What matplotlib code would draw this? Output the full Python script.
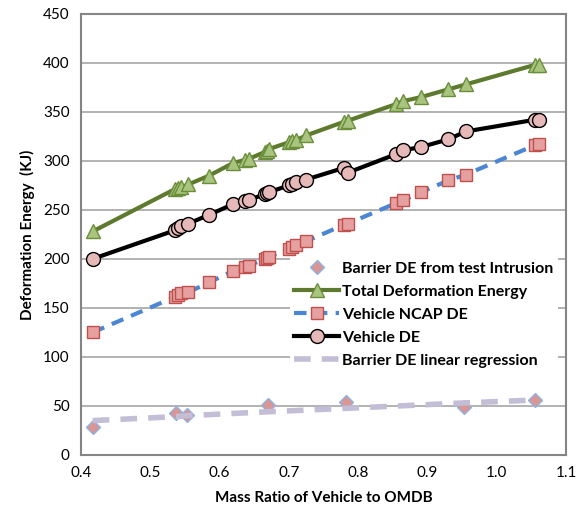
import matplotlib.pyplot as plt
import numpy as np

plt.rcParams['font.family'] = ['Lato', 'DejaVu Sans']

# mass ratio for vehicle series
ratio = [0.417, 0.535, 0.54, 0.545, 0.555, 0.585, 0.62, 0.637, 0.642, 0.665, 0.668, 0.671,
         0.70, 0.705, 0.71, 0.725, 0.78, 0.785, 0.855, 0.865, 0.89, 0.93, 0.955, 1.055, 1.06]
total_de = [228, 271, 272, 273, 276, 285, 298, 301, 302, 309, 310, 312,
            319, 320, 321, 326, 340, 341, 358, 361, 365, 373, 378, 398, 398]
vehicle_de = [200, 229, 232, 234, 236, 245, 256, 259, 260, 266, 267, 268,
              275, 276, 278, 281, 293, 288, 307, 311, 314, 322, 330, 342, 342]
ncap_de = [125, 161, 163, 165, 166, 176, 188, 192, 193, 200, 201, 202,
           210, 212, 214, 218, 235, 236, 257, 260, 268, 280, 286, 316, 317]

# barrier points
barrier_ratio = [0.417, 0.537, 0.553, 0.67, 0.783, 0.952, 1.055]
barrier_de = [28, 43, 41, 51, 54, 49, 56]
barrier_fit = [35, 39, 40, 44, 47.5, 53, 56]

fig = plt.figure(figsize=(5.82, 5.14), dpi=100)
ax = fig.add_axes([0.139, 0.115, 0.834, 0.858])

ax.plot(barrier_ratio, barrier_de, linestyle='none', marker='D', markersize=7,
        markerfacecolor='#D99694', markeredgecolor='#8EB4E3', markeredgewidth=1,
        label='Barrier DE from test Intrusion', zorder=5)
ax.plot(ratio, total_de, color='#5E7A2E', linewidth=3, marker='^', markersize=10,
        markerfacecolor='#A9C47F', markeredgecolor='#6B8E3A', markeredgewidth=1,
        label='Total Deformation Energy', zorder=4)
ax.plot(ratio, ncap_de, color='#4A86D4', linewidth=3, linestyle=(0, (3, 2)), marker='s',
        markersize=8, markerfacecolor='#E6A0A0', markeredgecolor='#C0504D', markeredgewidth=1,
        label='Vehicle NCAP DE', zorder=4)
ax.plot(ratio, vehicle_de, color='black', linewidth=3, marker='o', markersize=10,
        markerfacecolor='#E6B9B8', markeredgecolor='black', markeredgewidth=1,
        label='Vehicle DE', zorder=4)
ax.plot(barrier_ratio, barrier_fit, color='#C3BDD6', linewidth=4, linestyle=(0, (3, 2)),
        label='Barrier DE linear regression', zorder=6)

ax.set_xlim(0.4, 1.1)
ax.set_ylim(0, 450)
ax.set_xticks(np.arange(0.4, 1.11, 0.1))
ax.set_xticklabels(['0.4', '0.5', '0.6', '0.7', '0.8', '0.9', '1.0', '1.1'])
ax.set_yticks(range(0, 451, 50))
ax.tick_params(length=0, labelsize=11, pad=8)
ax.yaxis.grid(True, color='#A6A6A6', linewidth=1.2)
ax.set_axisbelow(True)
for s in ax.spines.values():
    s.set_color('#858585')
    s.set_linewidth(1.5)

ax.set_xlabel('Mass Ratio of Vehicle to OMDB', fontsize=11, fontweight='bold', labelpad=8)
ax.set_ylabel('Deformation Energy  (KJ)', fontsize=11, fontweight='bold', labelpad=6)

leg = ax.legend(loc='lower right', bbox_to_anchor=(1.0, 0.168), fontsize=11.5, frameon=True,
                fancybox=False, edgecolor='none', framealpha=1, borderpad=0.3,
                handlelength=2.8, handletextpad=0.2, labelspacing=0.56)
for t in leg.get_texts():
    t.set_fontweight('bold')

fig.savefig('out.png', dpi=100)
